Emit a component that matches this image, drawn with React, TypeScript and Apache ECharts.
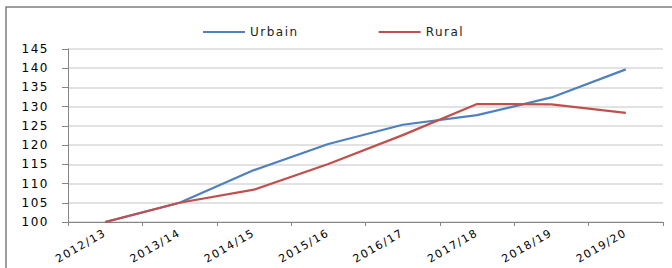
import React, { useEffect, useRef } from "react";
import * as echarts from "echarts";

const categories = ["2012/13", "2013/14", "2014/15", "2015/16", "2016/17", "2017/18", "2018/19", "2019/20"];
const urbain = [100, 105, 113.5, 120.3, 125.3, 127.8, 132.4, 139.7];
const rural = [100, 105, 108.4, 115.1, 122.6, 130.7, 130.6, 128.4];
const yMin = 100;
const yMax = 145;
const yStep = 5;

export default function App() {
  const ref = useRef<HTMLDivElement>(null);
  useEffect(() => {
    if (!ref.current) return;
    const chart = echarts.init(ref.current, null, { renderer: "svg" });
    chart.setOption({
      animation: false,
      backgroundColor: "#ffffff",
      graphic: [
        {
          type: "rect",
          shape: { x: 6, y: 7, width: 700, height: 300 },
          style: { fill: "none", stroke: "#7f7f7f", lineWidth: 1.5 },
          silent: true,
          z: -1,
        },
      ],
      legend: {
        top: 21,
        left: 198,
        itemGap: 89,
        itemWidth: 42,
        itemHeight: 2,
        icon: "rect",
        textStyle: { fontFamily: "DejaVu Sans", fontSize: 12, color: "#222", padding: [0, 0, 0, 0] },
        data: ["Urbain", "Rural"],
      },
      grid: { left: 68, right: 9, top: 49, bottom: 46, containLabel: false },
      xAxis: {
        type: "category",
        data: categories,
        boundaryGap: true,
        axisLine: { lineStyle: { color: "#868686", width: 1 } },
        axisTick: { show: true, length: 4, lineStyle: { color: "#868686" } },
        axisLabel: {
          rotate: 30,
          fontFamily: "DejaVu Sans",
          fontSize: 11,
          color: "#000",
          margin: 10,
        },
        splitLine: { show: false },
      },
      yAxis: {
        type: "value",
        min: yMin,
        max: yMax,
        interval: yStep,
        axisLine: { show: true, lineStyle: { color: "#868686", width: 1 } },
        axisTick: { show: true, length: 6, lineStyle: { color: "#868686" } },
        axisLabel: {
          fontFamily: "DejaVu Sans",
          fontSize: 12,
          color: "#000",
          margin: 19,
        },
        splitLine: { show: true, lineStyle: { color: "#d9d9d9", width: 1.5 } },
      },
      series: [
        {
          name: "Urbain",
          type: "line",
          data: urbain,
          symbol: "none",
          lineStyle: { color: "#4f81bd", width: 2.2 },
          itemStyle: { color: "#4f81bd" },
          z: 2,
        },
        {
          name: "Rural",
          type: "line",
          data: rural,
          symbol: "none",
          lineStyle: { color: "#c0504d", width: 2.2 },
          itemStyle: { color: "#c0504d" },
          z: 3,
        },
      ],
    });
    return () => chart.dispose();
  }, []);
  return (
    <>
      <style>{"#chart-box svg text { letter-spacing: 1.5px; }"}</style>
      <div
        id="chart-box"
        ref={ref}
        style={{ position: "absolute", left: 0, top: 0, width: 672, height: 268 }}
      />
    </>
  );
}
